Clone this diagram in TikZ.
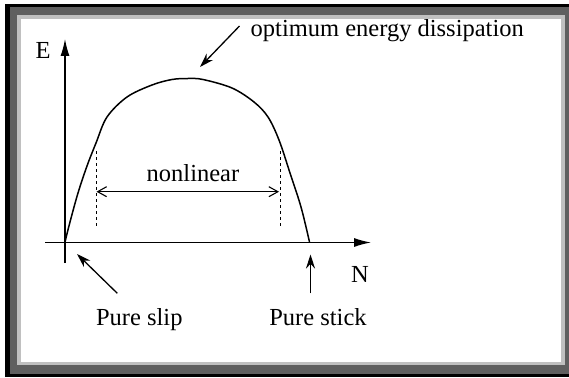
\documentclass[tikz,border=0pt]{standalone}
\usepackage{fontspec}
\setmainfont{Liberation Serif}
\usetikzlibrary{arrows.meta}
\definecolor{framedark}{HTML}{5F5F5F}
\definecolor{framelight}{HTML}{C0C0C0}
\begin{document}
\begin{tikzpicture}[x=1pt,y=-1pt,
  lbl/.style={inner sep=0pt,font=\fontsize{24.5}{29}\selectfont},
  axis/.style={line width=1.2pt,-{Latex[length=17pt,width=9pt]}},
  pointer/.style={line width=1.3pt,-{Stealth[length=14pt,width=9pt]}},
  span/.style={line width=1.1pt,{Straight Barb[length=9pt,width=10pt]}-{Straight Barb[length=9pt,width=10pt]}},
  guide/.style={line width=0.9pt,dash pattern=on 3pt off 3pt},
  curve/.style={line width=1.5pt,line join=round}]
\useasboundingbox (0,0) rectangle (569,377);
% frame
\fill[white] (0,0) rectangle (569,377);
\fill[black] (5,4) rectangle (569,377);
\fill[framedark] (10,7) rectangle (569,374);
\fill[framelight] (17,15) rectangle (565,365);
\fill[white] (21,19) rectangle (561,362);
% axes
\coordinate (ybot) at (65,263);
\coordinate (ytop) at (65,39);
\coordinate (xleft) at (45,242.5);
\coordinate (xright) at (371,242.5);
\draw[axis] (ybot) -- (ytop);
\draw[axis] (xleft) -- (xright);
% curve
\draw[curve] plot[smooth,tension=0.55] coordinates {
 (65,242) (70,222) (78,193) (87,166) (96,143) (107,117) (127,97) (152,85)
 (172,79.5) (188,78.5) (203,79.5) (232,88) (254,102) (268,117) (279,140)
 (290,173) (301,207) (309.5,242)};
% dashed guides
\coordinate (gl1) at (96,151);
\coordinate (gl2) at (96,228);
\coordinate (gr1) at (280,151);
\coordinate (gr2) at (280,228);
\draw[guide] (gl1) -- (gl2);
\draw[guide] (gr1) -- (gr2);
\coordinate (sl) at (96.5,191.7);
\coordinate (sr) at (279,191.7);
\draw[span] (sl) -- (sr);
% labels
\node[lbl,anchor=base] (E) at (43,59) {E};
\node[lbl,anchor=base] (N) at (360,282.5) {N};
\node[lbl,anchor=base west] (opt) at (250.5,36.7) {optimum energy dissipation};
\node[lbl,anchor=base] (nonlin) at (193,181) {nonlinear};
\node[lbl,anchor=base] (slip) at (139.3,325.5) {Pure slip};
\node[lbl,anchor=base] (stick) at (318,325) {Pure stick};
% pointers
\coordinate (optTail) at (239.5,26);
\coordinate (optTip) at (200,67);
\draw[pointer] (optTail) -- (optTip);
\coordinate (slipTail) at (117.3,293.3);
\coordinate (slipTip) at (77,254);
\draw[pointer] (slipTail) -- (slipTip);
\coordinate (stickTail) at (310.5,293.3);
\coordinate (stickTip) at (310.5,254.5);
\draw[pointer] (stickTail) -- (stickTip);
\end{tikzpicture}
\end{document}
